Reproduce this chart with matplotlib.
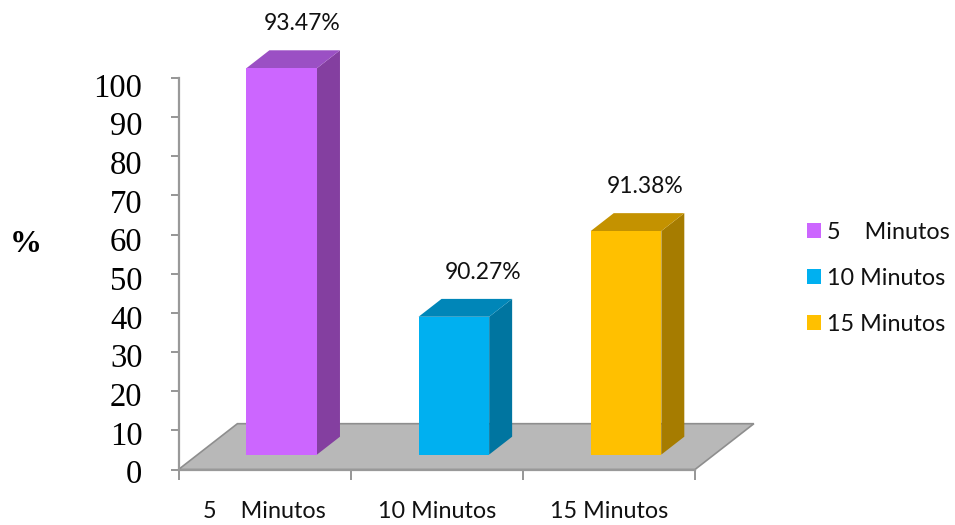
import matplotlib
matplotlib.use("Agg")
import matplotlib.pyplot as plt
from matplotlib.patches import Polygon, Patch
from matplotlib.transforms import ScaledTranslation

categories = ["5    Minutos", "10 Minutos", "15 Minutos"]
heights = [98.7, 35.2, 57.1]
value_labels = ["93.47%", "90.27%", "91.38%"]
y_ticks = list(range(0, 101, 10))
front_colors = ["#CC66FF", "#00B0F0", "#FFC000"]
side_colors = ["#843FA0", "#0075A0", "#A67C00"]
top_colors = ["#9B50C4", "#0086B8", "#C49200"]

W, H = 955, 525
fig = plt.figure(figsize=(W / 100, H / 100), dpi=100)
ax = fig.add_axes([178.5 / W, 1 - 469.5 / H, (695 - 178.5) / W, (469.5 - 78) / H])
ax.set_xlim(0, 3)
ax.set_ylim(0, 100)
ax.patch.set_visible(False)

# oblique depth of the floor, in data units
depth_x, depth_y = 0.342, 11.7
floor = Polygon([(0, 0), (3, 0), (3 + depth_x, depth_y), (depth_x, depth_y)],
                closed=True, facecolor="#B8B8B8", edgecolor="#8E8E8E",
                linewidth=1.2, clip_on=False, zorder=1)
ax.add_patch(floor)

bar_w = 0.41
near = 0.326   # share of the floor depth in front of the bars
bar_d = 0.39   # share of the floor depth taken by the bars
label_dx = [15, 21, 14]  # horizontal nudge of each value label, in points
for i, h in enumerate(heights):
    x0 = i + 0.5 - bar_w / 2 + depth_x * near - 0.012
    x1 = x0 + bar_w
    y0 = depth_y * near
    y1 = y0 + h
    dx, dy = depth_x * bar_d, depth_y * bar_d
    ax.add_patch(Polygon([(x1, y0), (x1 + dx, y0 + dy), (x1 + dx, y1 + dy), (x1, y1)],
                         facecolor=side_colors[i], edgecolor="none", clip_on=False, zorder=3))
    ax.add_patch(Polygon([(x0, y1), (x1, y1), (x1 + dx, y1 + dy), (x0 + dx, y1 + dy)],
                         facecolor=top_colors[i], edgecolor="none", clip_on=False, zorder=3))
    ax.add_patch(Polygon([(x0, y0), (x1, y0), (x1, y1), (x0, y1)],
                         facecolor=front_colors[i], edgecolor="none", clip_on=False, zorder=4))
    ax.annotate(value_labels[i], xy=((x0 + x1) / 2, y1), xytext=(label_dx[i], 32),
                textcoords="offset points", ha="center", va="center",
                family="Lato", fontsize=16.5, color="#111111", annotation_clip=False)

for s in ("top", "right"):
    ax.spines[s].set_visible(False)
for s in ("left", "bottom"):
    ax.spines[s].set_color("#999999")
    ax.spines[s].set_linewidth(1.6)

ax.set_yticks(y_ticks)
ax.set_yticklabels([str(t) for t in y_ticks], family="Liberation Serif", fontsize=23.5, color="black")
ax.tick_params(axis="y", length=5.5, width=1.3, color="#8E8E8E", pad=20.5)
# the reference's labels run on a slightly tighter pitch than its tick marks
for t, lab in zip(y_ticks, ax.get_yticklabels()):
    shift = -(2 + 5 * t / 100) / 100
    lab.set_transform(lab.get_transform() + ScaledTranslation(0, shift, fig.dpi_scale_trans))

ax.set_xticks([0, 1, 2, 3])
ax.set_xticklabels([])
ax.set_xticks([0.5, 1.5, 2.5], minor=True)
ax.set_xticklabels(categories, minor=True, family="Lato", fontsize=16.8, color="#111111")
ax.tick_params(axis="x", which="major", length=7, width=1.3, color="#8E8E8E")
ax.tick_params(axis="x", which="minor", length=0, pad=22.5)

fig.text(26 / W, 1 - 245 / H, "%", family="Liberation Serif", fontweight="bold",
         fontsize=23, ha="center", va="center", color="black")

handles = [Patch(facecolor=c, edgecolor="none") for c in front_colors]
fig.legend(handles, categories, loc="center left", bbox_to_anchor=(786 / W, 1 - 278.5 / H),
           frameon=False, prop={"family": "Lato", "size": 16.8}, labelcolor="#111111",
           handlelength=0.6, handleheight=0.6, handletextpad=0.25, labelspacing=1.07)

fig.savefig("out.png", dpi=100)
